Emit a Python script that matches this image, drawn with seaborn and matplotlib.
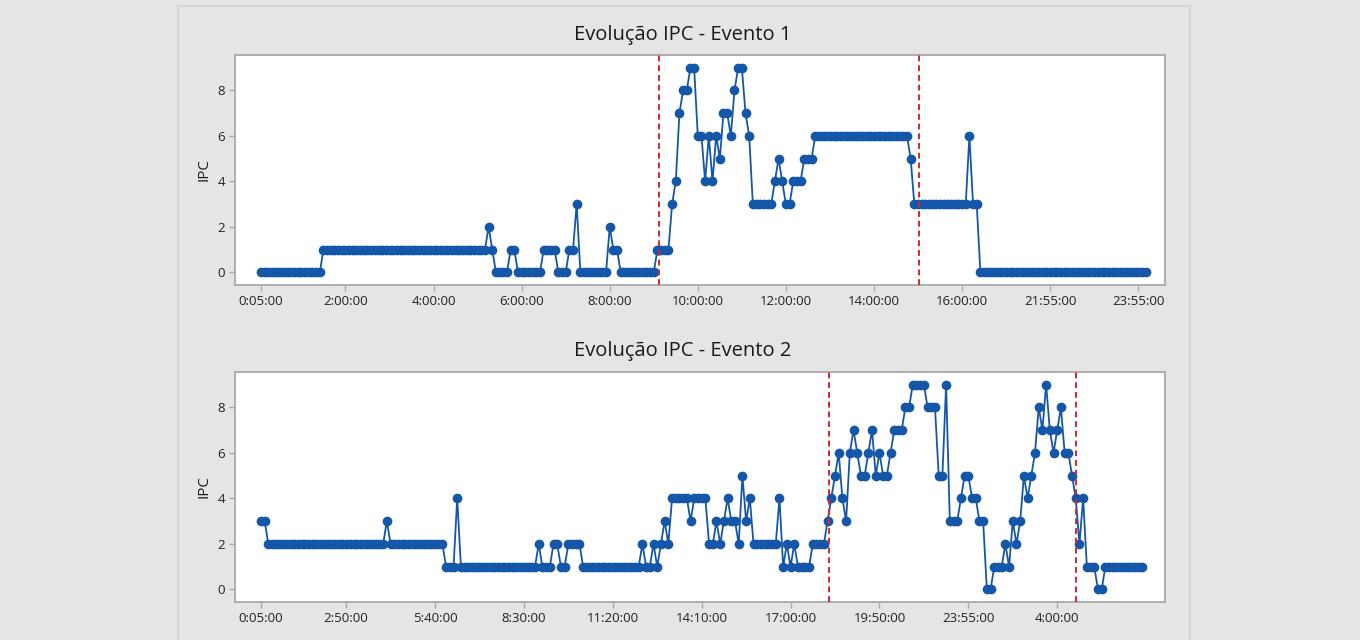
import pandas as pd
import seaborn as sns
import matplotlib.pyplot as plt
from matplotlib.patches import Rectangle

# IPC por intervalo (eixo x = ordem das leituras)
ipc_evento1 = [
    0, 0, 0, 0, 0, 0, 0, 0, 0, 0, 0, 0, 0, 0, 0, 0, 0, 1, 1, 1,
    1, 1, 1, 1, 1, 1, 1, 1, 1, 1, 1, 1, 1, 1, 1, 1, 1, 1, 1, 1,
    1, 1, 1, 1, 1, 1, 1, 1, 1, 1, 1, 1, 1, 1, 1, 1, 1, 1, 1, 1,
    1, 1, 2, 1, 0, 0, 0, 0, 1, 1, 0, 0, 0, 0, 0, 0, 0, 1, 1, 1,
    1, 0, 0, 0, 1, 1, 3, 0, 0, 0, 0, 0, 0, 0, 0, 2, 1, 1, 0, 0,
    0, 0, 0, 0, 0, 0, 0, 0, 1, 1, 1, 1, 3, 4, 7, 8, 8, 9, 9, 6,
    6, 4, 6, 4, 6, 5, 7, 7, 6, 8, 9, 9, 7, 6, 3, 3, 3, 3, 3, 3,
    4, 5, 4, 3, 3, 4, 4, 4, 5, 5, 5, 6, 6, 6, 6, 6, 6, 6, 6, 6,
    6, 6, 6, 6, 6, 6, 6, 6, 6, 6, 6, 6, 6, 6, 6, 6, 6, 5, 3, 3,
    3, 3, 3, 3, 3, 3, 3, 3, 3, 3, 3, 3, 3, 6, 3, 3, 0, 0, 0, 0,
    0, 0, 0, 0, 0, 0, 0, 0, 0, 0, 0, 0, 0, 0, 0, 0, 0, 0, 0, 0,
    0, 0, 0, 0, 0, 0, 0, 0, 0, 0, 0, 0, 0, 0, 0, 0, 0, 0, 0, 0,
    0, 0,
]

ipc_evento2 = [
    3, 3, 2, 2, 2, 2, 2, 2, 2, 2, 2, 2, 2, 2, 2, 2, 2, 2, 2, 2,
    2, 2, 2, 2, 2, 2, 2, 2, 2, 2, 2, 2, 2, 2, 3, 2, 2, 2, 2, 2,
    2, 2, 2, 2, 2, 2, 2, 2, 2, 2, 1, 1, 1, 4, 1, 1, 1, 1, 1, 1,
    1, 1, 1, 1, 1, 1, 1, 1, 1, 1, 1, 1, 1, 1, 1, 2, 1, 1, 1, 2,
    2, 1, 1, 2, 2, 2, 2, 1, 1, 1, 1, 1, 1, 1, 1, 1, 1, 1, 1, 1,
    1, 1, 1, 2, 1, 1, 2, 1, 2, 3, 2, 4, 4, 4, 4, 4, 3, 4, 4, 4,
    4, 2, 2, 3, 2, 3, 4, 3, 3, 2, 5, 3, 4, 2, 2, 2, 2, 2, 2, 2,
    4, 1, 2, 1, 2, 1, 1, 1, 1, 2, 2, 2, 2, 3, 4, 5, 6, 4, 3, 6,
    7, 6, 5, 5, 6, 7, 5, 6, 5, 5, 6, 7, 7, 7, 8, 8, 9, 9, 9, 9,
    8, 8, 8, 5, 5, 9, 3, 3, 3, 4, 5, 5, 4, 4, 3, 3, 0, 0, 1, 1,
    1, 2, 1, 3, 2, 3, 5, 4, 5, 6, 8, 7, 9, 7, 6, 7, 8, 6, 6, 5,
    4, 2, 4, 1, 1, 1, 0, 0, 1, 1, 1, 1, 1, 1, 1, 1, 1, 1, 1,
]

ticks_evento1 = [0, 23, 47, 71, 95, 119, 143, 167, 191, 215, 239]
labels_evento1 = ["0:05:00", "2:00:00", "4:00:00", "6:00:00", "8:00:00", "10:00:00",
                  "12:00:00", "14:00:00", "16:00:00", "21:55:00", "23:55:00"]
ticks_evento2 = [0, 23, 47, 71, 95, 119, 143, 167, 191, 215]
labels_evento2 = ["0:05:00", "2:50:00", "5:40:00", "8:30:00", "11:20:00", "14:10:00",
                  "17:00:00", "19:50:00", "23:55:00", "4:00:00"]

# inicio / fim de cada evento (linhas vermelhas)
limites_evento1 = [108.4, 179.3]
limites_evento2 = [153.3, 220.0]

sns.set_style("white")
plt.rcParams["font.family"] = ["Open Sans", "DejaVu Sans"]

W, H = 1360, 640
fig = plt.figure(figsize=(13.6, 6.4), dpi=100, facecolor="#e4e5e4")
fig.patches.append(Rectangle((178 / W, -0.01), 1012 / W, 1 - 6 / H + 0.01,
                             transform=fig.transFigure, fill=False,
                             edgecolor="#cfd0cf", lw=1.2))


def desenha(ax, valores, ticks, labels, limites, titulo, xlim, y_titulo, y_label):
    df = pd.DataFrame({"idx": range(len(valores)), "IPC": valores})
    sns.lineplot(data=df, x="idx", y="IPC", ax=ax, color="#1457a8",
                 marker="o", markersize=7, markeredgewidth=0, linewidth=1.3)
    for x in limites:
        ax.axvline(x, color="#d8262b", ls=(0, (3, 2)), lw=1.4, zorder=3)
    ax.set_xlim(*xlim)
    ax.set_ylim(-0.55, 9.55)
    ax.set_xticks(ticks)
    ax.set_xticklabels(labels)
    ax.set_yticks([0, 2, 4, 6, 8])
    ax.set_xlabel("")
    ax.set_ylabel("")
    ax.set_facecolor("white")
    for s in ax.spines.values():
        s.set_color("#a9a9a9")
        s.set_linewidth(1.3)
    ax.tick_params(direction="out", length=4, width=1, color="#a9a9a9",
                   labelsize=9.5, labelcolor="#222222", pad=3)
    ax.tick_params(axis="x", bottom=True)
    ax.tick_params(axis="y", left=True)
    fig.text(683 / W, 1 - y_titulo / H, titulo, ha="center", va="center",
             fontsize=14.5, color="#1a1a1a")
    fig.text(204 / W, 1 - y_label / H, "IPC", ha="center", va="center",
             rotation=90, fontsize=11, color="#1a1a1a")


ax1 = fig.add_axes([235 / W, 1 - 285 / H, 930 / W, 230 / H])
desenha(ax1, ipc_evento1, ticks_evento1, labels_evento1, limites_evento1,
        "Evolução IPC - Evento 1", (-7.1, 246.3), 35, 170)

ax2 = fig.add_axes([235 / W, 1 - 602 / H, 930 / W, 230 / H])
desenha(ax2, ipc_evento2, ticks_evento2, labels_evento2, limites_evento2,
        "Evolução IPC - Evento 2", (-7.0, 244.1), 351, 487)

fig.savefig("out.png", dpi=100, facecolor=fig.get_facecolor())
